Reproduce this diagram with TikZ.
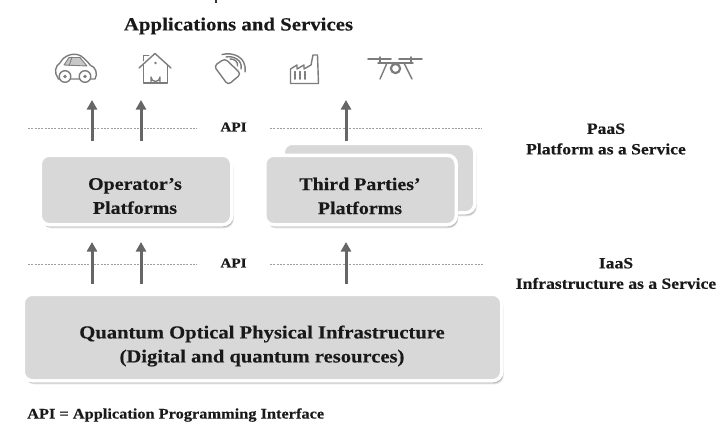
\documentclass[tikz,border=0pt]{standalone}
\usepackage{fontspec}
\setmainfont[FakeStretch=1.12,FakeBold=0.25]{Liberation Serif}
\usetikzlibrary{arrows.meta,shadows}
\definecolor{boxgray}{HTML}{D8D8D8}
\definecolor{arrowgray}{HTML}{666666}
\definecolor{icongray}{HTML}{7C7C7C}
\tikzset{
  panel/.style={draw=white,line width=3.5pt,fill=boxgray,rounded corners=9pt,inner sep=0pt,
    general shadow={shadow xshift=2pt,shadow yshift=-3.5pt,fill=black,opacity=.10},
    general shadow={shadow xshift=1.4pt,shadow yshift=-2.6pt,fill=black,opacity=.18},
    general shadow={shadow xshift=.8pt,shadow yshift=-1.6pt,fill=black,opacity=.25}},
  smallpanel/.style={panel,minimum width=191.5pt,minimum height=69.5pt},
  label/.style={font=\bfseries,text=black!90,align=center,inner sep=0pt},
  apiline/.style={draw=black!38,line width=.9pt,dash pattern=on 2pt off 1.3pt},
  uparrow/.style={draw=arrowgray,line width=3pt,-{Triangle[length=9.5pt,width=10pt]}},
  icon/.style={draw=icongray,line width=1.4pt,line join=round,line cap=round,fill=none},
  iconthin/.style={draw=icongray,line width=.9pt,line join=round,line cap=round,fill=none}
}
\begin{document}
\begin{tikzpicture}[x=1pt,y=-1pt]
\useasboundingbox (0,0) rectangle (717,423);
\fill[white] (0,0) rectangle (717,423);
\fill[black!80] (214.5,0) rectangle (217,3);

% title
\node[label,font=\bfseries\fontsize{18.6}{20}\selectfont] (title) at (238.5,26) {Applications and Services};

% car
\begin{scope}[icon]
\draw (58,78) .. controls (54,73) and (55,66) .. (60,63) .. controls (64,55) and (74,52) .. (81,56) .. controls (85,59) and (88,62) .. (90,65) .. controls (96,67) and (98,74) .. (95,79) -- (58,79);
\draw[iconthin,fill=black!22] (64,65) -- (69,57.5) -- (80,57.5) -- (87,66) -- cycle;
\draw[iconthin] (72,57) -- (69,66);
\draw[fill=white] (65,76.5) circle (5.8);
\draw[fill=white] (85,76.5) circle (5.8);
\fill[icongray] (65,76.5) circle (1.8) (85,76.5) circle (1.8);
\end{scope}
% house
\begin{scope}[icon]
\draw (139,68) -- (155,53.5) -- (171,68);
\draw (143.5,65) -- (143.5,83) -- (167.5,83) -- (167.5,65);
\draw (151,83) -- (151,77) arc[start angle=180,end angle=0,radius=4.5] -- (160,83);
\draw[iconthin] (143.5,61) -- (143.5,55.5) -- (149,55.5);
\fill[icongray] (155.5,63) circle (1.4);
\end{scope}
% tag
\begin{scope}[icon]
\draw[rounded corners=3.5pt] (214,66) -- (225,58.5) -- (241,74) -- (228,85) -- cycle;
\draw (222,54.5) .. controls (232,52) and (247,56) .. (245,72);
\draw (226,57) .. controls (233,55.5) and (243,60) .. (241,69);
\draw (230,59) .. controls (234,58.5) and (238.5,62) .. (237.5,66);
\end{scope}
% factory
\begin{scope}[icon]
\draw (290.5,83.5) -- (290.5,69) -- (297,65) -- (297,69) -- (304,65) -- (304,69) -- (311,65) -- (313,55) -- (317.5,55) -- (318.5,83.5) -- cycle;
\foreach \x in {295,300,305}{\draw[iconthin,line width=1.3pt,dash pattern=on 2pt off .8pt] (\x,71.5) -- (\x,79.5);}
\end{scope}
% drone
\begin{scope}[icon]
\draw[line width=1.7pt] (368,59) -- (391,59) (399,59) -- (422,59);
\draw (380,57) -- (380,63) (411,57) -- (411,63);
\draw (378,63) -- (413,63);
\draw (387,63) -- (380,79);
\draw (404,63) -- (412,79);
\draw[line width=2.2pt,fill=white] (395.5,68.5) circle (4.6);
\end{scope}

% API lines
\coordinate (l1a) at (28,128); \coordinate (l1b) at (197,128);
\coordinate (l1c) at (270,128); \coordinate (l1d) at (482,128);
\coordinate (l2a) at (28,264); \coordinate (l2b) at (197,264);
\coordinate (l2c) at (270,264); \coordinate (l2d) at (484,264);
\draw[apiline] (l1a) -- (l1b);
\draw[apiline] (l1c) -- (l1d);
\draw[apiline] (l2a) -- (l2b);
\draw[apiline] (l2c) -- (l2d);
\node[label,font=\bfseries\fontsize{13.6}{15}\selectfont] (api1) at (233.5,127) {API};
\node[label,font=\bfseries\fontsize{13.6}{15}\selectfont] (api2) at (233.5,263) {API};

% boxes
\node[smallpanel] (back) at (379,178) {};
\node[smallpanel] (op) at (136,190) {};
\node[smallpanel] (third) at (360.5,190) {};
\node[panel,minimum width=478.5pt,minimum height=86.5pt] (infra) at (262.5,337.5) {};

\node[label,font=\bfseries\fontsize{17.8}{24}\selectfont] (optext) at (135,196) {Operator’s\\Platforms};
\node[label,font=\bfseries\fontsize{17.8}{24}\selectfont] (thirdtext) at (360,196) {Third Parties’\\Platforms};
\node[label,font=\bfseries\fontsize{18.4}{24}\selectfont] (infratext) at (262,346) {Quantum Optical Physical Infrastructure\\(Digital and quantum resources)};

% arrows
\coordinate (a1s) at (92,141); \coordinate (a1e) at (92,100);
\coordinate (a2s) at (141,141); \coordinate (a2e) at (141,100);
\coordinate (a3s) at (346,141); \coordinate (a3e) at (346,100);
\coordinate (b1s) at (92,284); \coordinate (b1e) at (92,242);
\coordinate (b2s) at (141,284); \coordinate (b2e) at (141,242);
\coordinate (b3s) at (346,284); \coordinate (b3e) at (346,242);
\foreach \s/\e in {a1s/a1e,a2s/a2e,a3s/a3e,b1s/b1e,b2s/b2e,b3s/b3e}{\draw[uparrow] (\s) -- (\e);}

% right labels
\node[label,font=\bfseries\fontsize{15.7}{20.5}\selectfont] (paas) at (606,139) {PaaS\\Platform as a Service};
\node[label,font=\bfseries\fontsize{15.7}{20.5}\selectfont] (iaas) at (616,273.5) {IaaS\\Infrastructure as a Service};

% footnote
\node[label,anchor=west,font=\bfseries\fontsize{14.6}{15}\selectfont] (note) at (27,415) {API = Application Programming Interface};
\end{tikzpicture}
\end{document}
